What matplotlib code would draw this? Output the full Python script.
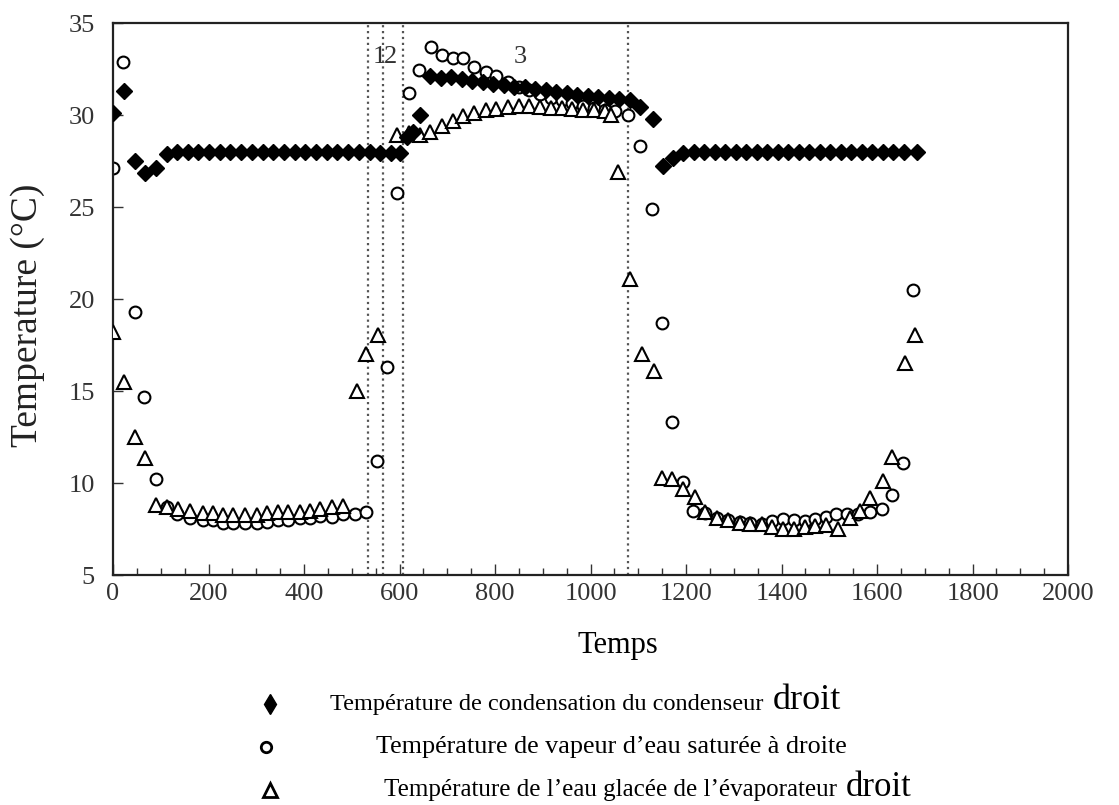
import matplotlib
matplotlib.use("Agg")
import matplotlib.pyplot as plt
from matplotlib.lines import Line2D
from matplotlib.ticker import MultipleLocator

plt.rcParams["font.family"] = ["Liberation Serif", "DejaVu Serif"]

# condensation temperature (diamonds)
cond_t = [0, 22, 45, 67, 90, 112,
          134, 157, 179, 202, 224, 246, 269, 291, 314, 336, 358, 381, 403, 426,
          448, 470, 493, 515, 538, 560, 582,
          600, 615, 628, 643,
          664, 686, 708, 730, 752, 774, 796, 818, 840, 862, 884, 906, 928, 950,
          972, 994, 1016, 1038, 1060, 1082,
          1104, 1131, 1152, 1173, 1194,
          1216, 1238, 1260, 1282, 1304, 1326, 1348, 1370, 1392, 1414, 1436, 1458,
          1480, 1502, 1524, 1546, 1568, 1590, 1612, 1634, 1656, 1683]
cond_v = [30.1, 31.3, 27.5, 26.85, 27.1, 27.9,
          28.0, 28.0, 28.0, 28.0, 28.0, 28.0, 28.0, 28.0, 28.0, 28.0, 28.0, 28.0, 28.0, 28.0,
          28.0, 28.0, 28.0, 28.0, 28.0, 27.95, 27.95,
          27.95, 28.8, 29.1, 30.0,
          32.1, 32.0, 32.05, 31.95, 31.85, 31.8, 31.7, 31.65, 31.55, 31.5, 31.4, 31.35, 31.25, 31.2,
          31.1, 31.05, 31.0, 30.9, 30.85, 30.8,
          30.45, 29.8, 27.25, 27.65, 27.95,
          28.0, 28.0, 28.0, 28.0, 28.0, 28.0, 28.0, 28.0, 28.0, 28.0, 28.0, 28.0,
          28.0, 28.0, 28.0, 28.0, 28.0, 28.0, 28.0, 28.0, 28.0, 28.0]

# saturated vapour temperature (circles)
vap_t = [0, 20, 45, 64, 91, 112, 135, 161, 189, 210, 231, 252, 276, 301, 322, 346,
         367, 392, 413, 434, 458, 482, 507, 530, 553, 573, 594, 620, 641, 665, 688,
         711, 733, 756, 781, 803, 827, 850, 872, 895, 917, 940, 962, 985, 1007, 1030,
         1052, 1078, 1104, 1128, 1149, 1170, 1194, 1215, 1240, 1264, 1288, 1313, 1334,
         1358, 1379, 1404, 1425, 1449, 1470, 1494, 1515, 1538, 1560, 1585, 1610, 1631,
         1655, 1676]
vap_v = [27.1, 32.9, 19.3, 14.65, 10.2, 8.7, 8.3, 8.1, 8.0, 8.0, 7.85, 7.85, 7.85, 7.85, 7.9, 8.0,
         8.0, 8.1, 8.1, 8.2, 8.15, 8.3, 8.3, 8.45, 11.2, 16.3, 25.75, 31.2, 32.45, 33.7, 33.25,
         33.1, 33.1, 32.6, 32.35, 32.1, 31.8, 31.55, 31.35, 31.15, 30.95, 30.8, 30.65, 30.5, 30.4, 30.3,
         30.2, 30.0, 28.3, 24.9, 18.7, 13.3, 10.07, 8.5, 8.37, 8.1, 8.0, 7.9, 7.8,
         7.75, 7.95, 8.05, 8.0, 7.95, 8.05, 8.15, 8.3, 8.3, 8.3, 8.45, 8.6, 9.35,
         11.1, 20.5]

# chilled water temperature (triangles)
ice_t = [0, 22, 46, 67, 91, 114, 137, 161, 189, 210, 231, 252, 276, 301, 322, 346,
         367, 392, 413, 434, 458, 482, 510, 530, 555, 594, 620, 643, 664, 688, 711,
         733, 756, 781, 803, 827, 850, 872, 895, 917, 940, 962, 985, 1007, 1030, 1042,
         1058, 1083, 1107, 1132, 1149, 1170, 1194, 1219, 1240, 1264, 1288, 1313, 1334,
         1358, 1379, 1404, 1425, 1449, 1470, 1494, 1519, 1543, 1564, 1585, 1613, 1631,
         1658, 1679]
ice_v = [18.2, 15.5, 12.5, 11.35, 8.8, 8.7, 8.6, 8.5, 8.35, 8.35, 8.25, 8.25, 8.25, 8.25, 8.35, 8.4,
         8.4, 8.4, 8.5, 8.6, 8.7, 8.75, 15.0, 17.0, 18.05, 28.9, 29.0, 28.9, 29.1, 29.4, 29.7,
         29.95, 30.1, 30.25, 30.35, 30.45, 30.5, 30.5, 30.45, 30.4, 30.4, 30.35, 30.3, 30.3, 30.2, 30.0,
         26.9, 21.1, 17.0, 16.1, 10.27, 10.2, 9.7, 9.25, 8.45, 8.1, 8.0, 7.85, 7.75,
         7.75, 7.6, 7.5, 7.5, 7.6, 7.65, 7.7, 7.5, 8.1, 8.5, 9.2, 10.1, 11.4,
         16.5, 18.05]

phase_lines = [535, 566, 607, 1078]
phase_labels = ["1", "2", "3"]
phase_label_x = [557, 582, 852]

legend_labels = ["Température de condensation du condenseur ",
                 "Température de vapeur d’eau saturée à droite",
                 "Température de l’eau glacée de l’évaporateur "]

fig = plt.figure(figsize=(11.19, 8.05), dpi=100)
ax = fig.add_axes([0.101, 0.2857, 0.8535, 0.6857])

for x in phase_lines:
    ax.axvline(x, color="#555555", linestyle=":", linewidth=1.6, zorder=1)

ax.plot(vap_t, vap_v, linestyle="none", marker="o", markersize=8.5,
        markerfacecolor="white", markeredgecolor="black", markeredgewidth=1.5, zorder=2)
ax.plot(ice_t, ice_v, linestyle="none", marker="^", markersize=10,
        markerfacecolor="white", markeredgecolor="black", markeredgewidth=1.5, zorder=3)
ax.plot(cond_t, cond_v, linestyle="none", marker="D", markersize=8,
        markerfacecolor="black", markeredgecolor="black", zorder=4)

for lab, x in zip(phase_labels, phase_label_x):
    ax.text(x, 33.15, lab, ha="center", va="center", fontsize=19, color="#333333")

ax.set_xlim(0, 2000)
ax.set_ylim(5, 35)
ax.xaxis.set_major_locator(MultipleLocator(200))
ax.xaxis.set_minor_locator(MultipleLocator(50))
ax.yaxis.set_major_locator(MultipleLocator(5))
ax.tick_params(axis="x", which="major", direction="in", length=8, width=1,
               labelsize=19, pad=6, colors="#333333")
ax.tick_params(axis="x", which="minor", direction="in", length=5, width=1, colors="#333333")
ax.tick_params(axis="y", which="major", direction="in", length=7, width=1,
               labelsize=19, pad=13, colors="#333333")
for s in ax.spines.values():
    s.set_linewidth(1.6)
    s.set_color("#222222")

ax.set_xlabel("Temps", fontsize=22)
ax.xaxis.set_label_coords(0.529, -0.127)
ax.xaxis.label.set_va("center")
ax.set_ylabel("Temperature (°C)", fontsize=27, color="#222222")
ax.yaxis.set_label_coords(-0.089, 0.471)
ax.yaxis.label.set_va("center")

# legend drawn below the axes
W, H = 1119.0, 805.0
markers = [dict(marker="d", markersize=10, markerfacecolor="black", markeredgecolor="black"),
           dict(marker="o", markersize=7.5, markerfacecolor="white", markeredgecolor="black",
                markeredgewidth=2),
           dict(marker="^", markersize=10, markerfacecolor="white", markeredgecolor="black",
                markeredgewidth=2)]
mk_x = [270, 266, 270]
row_y = [704, 747, 790]
text_x = [330, 376, 384]
sizes = [17.5, 18.8, 18]
droit_size = [26, None, 25]
for i in range(3):
    fig.add_artist(Line2D([mk_x[i] / W], [1 - row_y[i] / H], transform=fig.transFigure,
                          linestyle="none", **markers[i]))
    t = fig.text(text_x[i] / W, 1 - row_y[i] / H, legend_labels[i], ha="left",
                 va="center", fontsize=sizes[i])
    if droit_size[i]:
        ax.annotate("droit", xy=(1, 0), xycoords=t, xytext=(2, 3.8),
                    textcoords="offset points", ha="left", va="baseline",
                    fontsize=droit_size[i])

fig.savefig("out.png", dpi=100)
